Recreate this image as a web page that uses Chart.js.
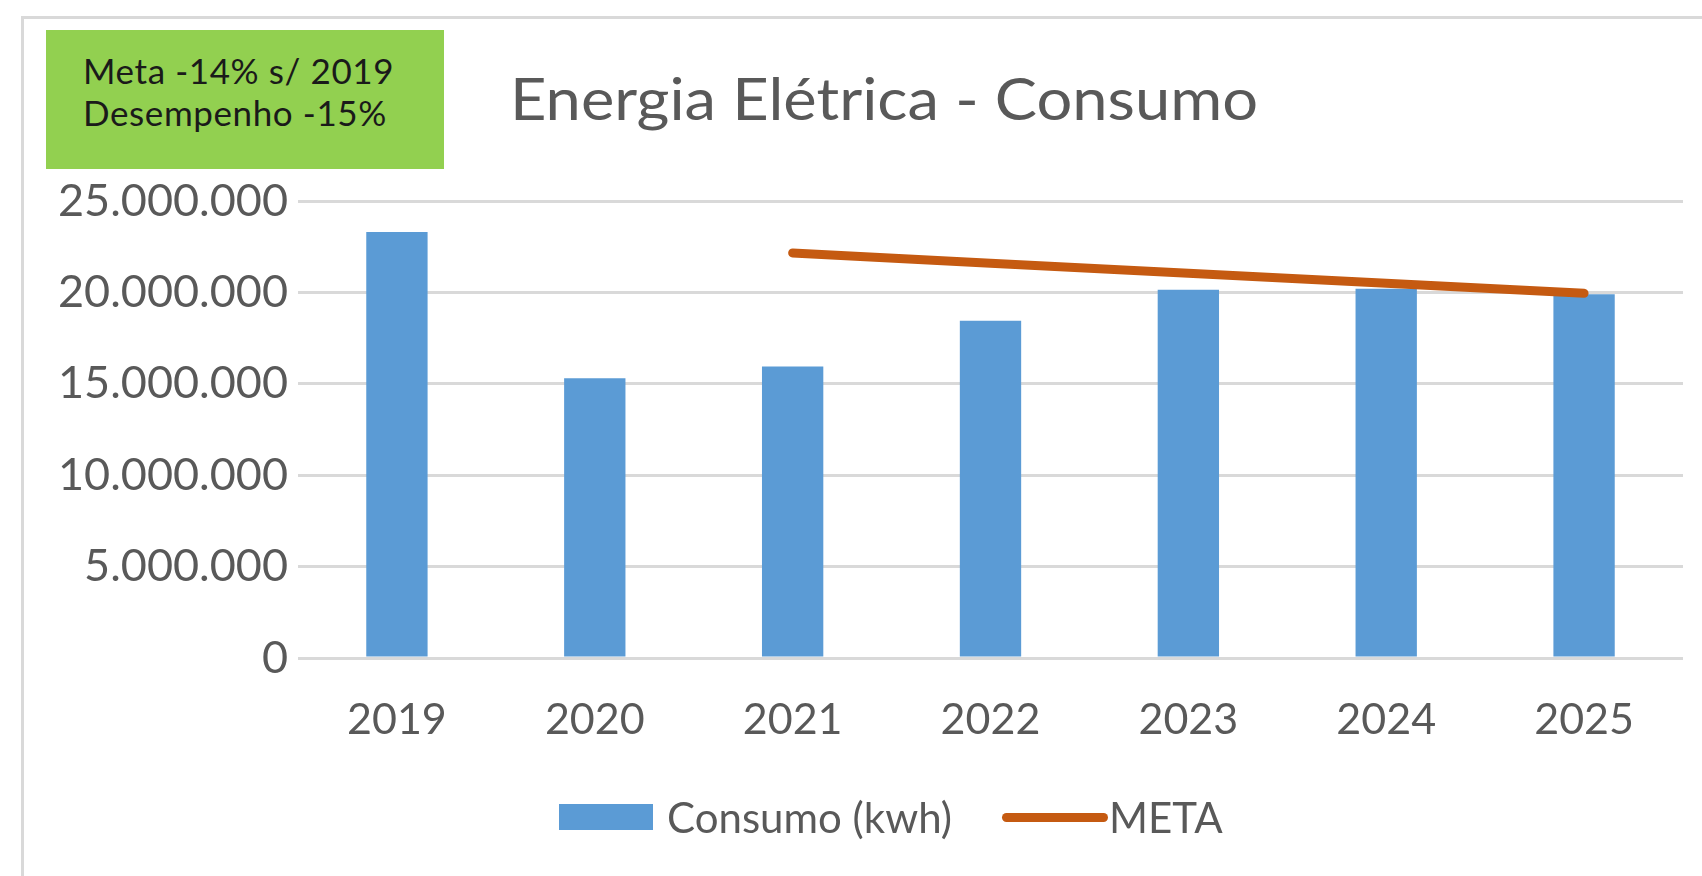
<!DOCTYPE html>
<html>
<head>
<meta charset="utf-8">
<script src="https://cdn.jsdelivr.net/npm/chart.js@4"></script>
<style>
    body { margin: 0; background: #fff; width: 1702px; height: 876px; overflow: hidden; position: relative; font-family: Lato, sans-serif; }
    #frame { position: absolute; left: 21px; top: 16px; width: 1700px; height: 880px; border-left: 3px solid #d9d9d9; border-top: 3px solid #d9d9d9; }
    #chart { position: absolute; left: 0; top: 0; }
    #meta { position: absolute; left: 46px; top: 30px; width: 398px; height: 139px; background: #92d050; color: #1a1a1a; font-size: 35px; line-height: 42px; letter-spacing: 0.6px; box-sizing: border-box; padding: 19px 0 0 37px; white-space: nowrap; }
    #title { position: absolute; left: 510px; top: 63px; color: #595959; font-size: 58px; white-space: nowrap; transform: scaleX(1.09); transform-origin: left center; }
    #legend { position: absolute; left: 559px; top: 792px; display: flex; align-items: center; color: #595959; font-size: 42px; white-space: nowrap; }
    #legend .box { display: inline-block; width: 94px; height: 26px; background: #5b9bd5; margin-right: 14px; }
    #legend .ln { display: inline-block; width: 106px; height: 9px; border-radius: 5px; background: #c55a11; margin-left: 50px; margin-right: 1px; }
</style>
</head>
<body>
<div id="frame"></div>
<canvas id="chart" width="1702" height="876"></canvas>
<div id="meta">Meta -14% s/ 2019<br>Desempenho -15%</div>
<div id="title">Energia Elétrica - Consumo</div>
<div id="legend"></div>
<script>
var years = ['2019', '2020', '2021', '2022', '2023', '2024', '2025'];
var consumo = [23300000, 15300000, 15950000, 18450000, 20150000, 20200000, 19900000];
var meta = [null, null, 22160000, 21600000, 21050000, 20500000, 19950000];
var seriesNames = ['Consumo (kwh)', 'META'];
var yMax = 25000000;
var yStep = 5000000;

function fmt(v) {
    return String(v).replace(/\B(?=(\d{3})+(?!\d))/g, '.');
}

document.getElementById('legend').innerHTML =
    '<span class="box"></span>' + seriesNames[0] +
    '<span class="ln"></span>' + seriesNames[1];

var ctx = document.getElementById('chart').getContext('2d');
var myChart = new Chart(ctx, {
    type: 'bar',
    data: {
        labels: years,
        datasets: [{
            type: 'line',
            label: seriesNames[1],
            data: meta,
            borderColor: '#c55a11',
            borderWidth: 9,
            borderCapStyle: 'round',
            pointRadius: 0,
            fill: false,
            order: 0
        }, {
            label: seriesNames[0],
            data: consumo,
            backgroundColor: '#5b9bd5',
            categoryPercentage: 1,
            barPercentage: 0.31,
            order: 1
        }]
    },
    options: {
        responsive: false,
        animation: false,
        layout: { padding: { left: 0, top: 201, right: 19, bottom: 0 } },
        plugins: { legend: { display: false }, tooltip: { enabled: false } },
        scales: {
            x: {
                grid: { display: false },
                border: { display: false },
                ticks: { color: '#595959', font: { family: 'Lato', size: 43 }, padding: 28 },
                afterFit: function(s) { s.height = 218; }
            },
            y: {
                min: 0,
                max: yMax,
                ticks: {
                    stepSize: yStep,
                    color: '#595959',
                    font: { family: 'Lato', size: 45 },
                    padding: 10,
                    callback: function(v) { return fmt(v); }
                },
                grid: { color: '#d9d9d9', lineWidth: 3, drawTicks: false },
                border: { display: false },
                afterFit: function(s) { s.width = 298; }
            }
        }
    }
});
</script>
</body>
</html>
